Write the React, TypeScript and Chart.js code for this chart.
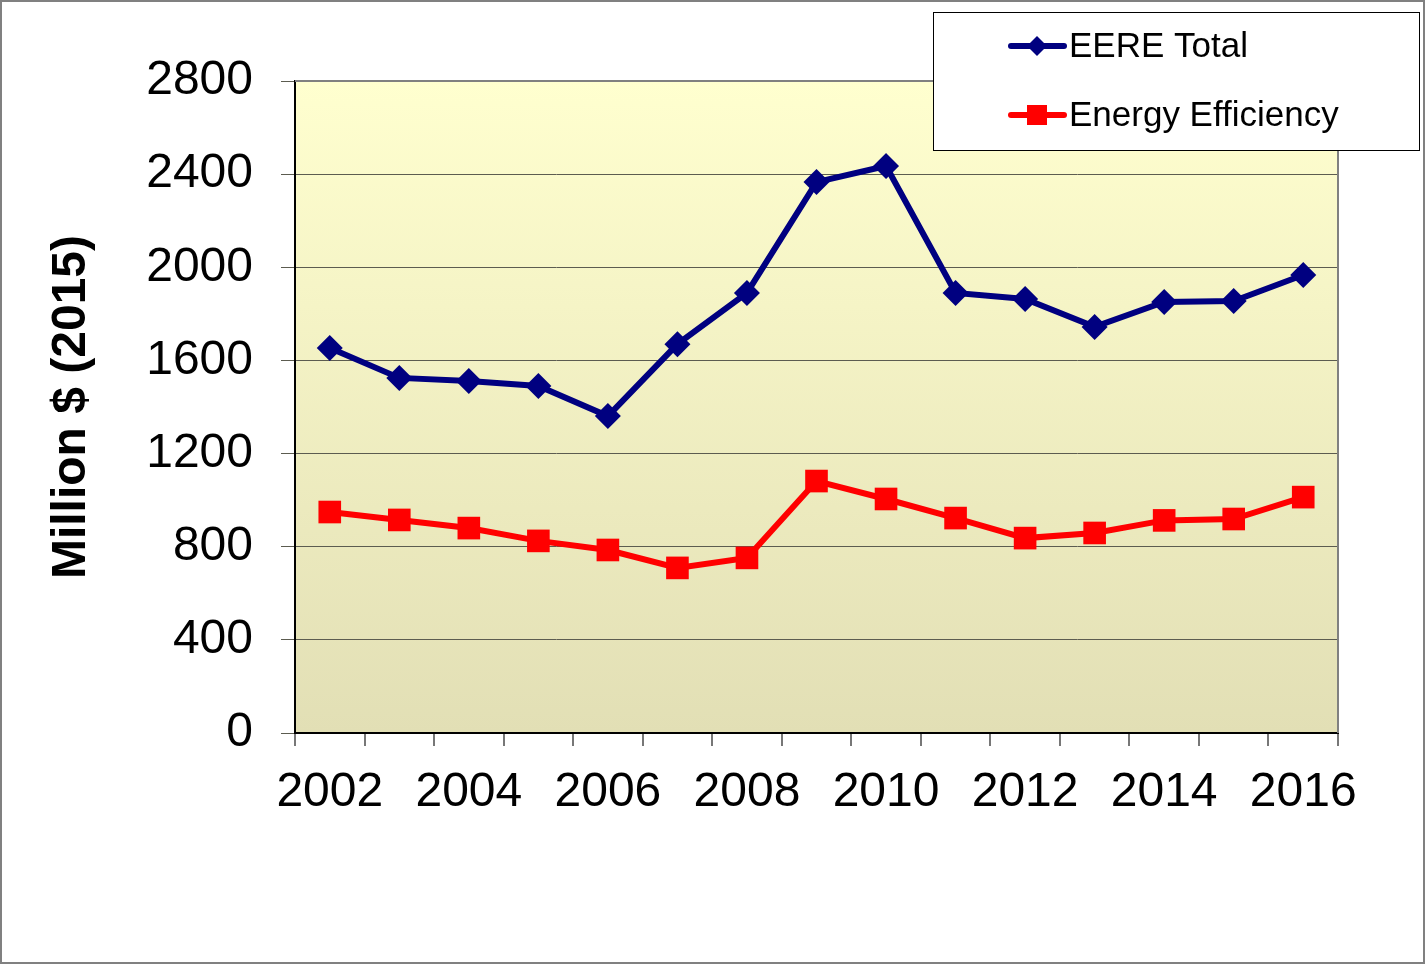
import React, { useEffect, useRef } from "react";
import { Chart, registerables } from "chart.js";

Chart.register(...registerables);

const years = ["2002","2003","2004","2005","2006","2007","2008","2009","2010","2011","2012","2013","2014","2015","2016"];
const eereTotal = [1653,1525,1512,1490,1361,1670,1890,2366,2435,1890,1864,1744,1851,1855,1967];
const energyEfficiency = [949,915,880,825,786,709,752,1082,1005,923,837,859,913,919,1013];
const yTicks = [0,400,800,1200,1600,2000,2400,2800];

const FONT = "'Liberation Sans', Arial, sans-serif";

const framePlugin = {
  id: "frame",
  beforeDraw(chart: any) {
    const { ctx, width, height, chartArea } = chart;
    ctx.save();
    ctx.fillStyle = "#ffffff";
    ctx.fillRect(0, 0, width, height);
    const g = ctx.createLinearGradient(0, chartArea.top, 0, chartArea.bottom);
    g.addColorStop(0, "#FFFFCF");
    g.addColorStop(1, "#E2DFB5");
    ctx.fillStyle = g;
    ctx.fillRect(chartArea.left, chartArea.top, chartArea.right - chartArea.left, chartArea.bottom - chartArea.top);
    ctx.restore();
  },
  afterDraw(chart: any) {
    const { ctx, width, height, chartArea } = chart;
    ctx.save();
    ctx.strokeStyle = "#808080";
    ctx.lineWidth = 2;
    ctx.beginPath();
    ctx.moveTo(chartArea.left, chartArea.top);
    ctx.lineTo(chartArea.right, chartArea.top);
    ctx.lineTo(chartArea.right, chartArea.bottom);
    ctx.stroke();
    ctx.strokeStyle = "#808080";
    ctx.lineWidth = 2;
    ctx.strokeRect(1, 1, width - 2, height - 2);

    const lx = 933, ly = 12, lw = 486, lh = 138;
    ctx.fillStyle = "#ffffff";
    ctx.fillRect(lx, ly, lw, lh);
    ctx.strokeStyle = "#000000";
    ctx.lineWidth = 1;
    ctx.strokeRect(lx + 0.5, ly + 0.5, lw, lh);
    const rows = [46, 115];
    chart.data.datasets.forEach((ds: any, i: number) => {
      const y = rows[i];
      ctx.strokeStyle = ds.borderColor;
      ctx.lineWidth = 6;
      ctx.lineCap = "round";
      ctx.beginPath();
      ctx.moveTo(1011, y);
      ctx.lineTo(1064, y);
      ctx.stroke();
      ctx.fillStyle = ds.borderColor;
      const cx = 1037;
      if (ds.pointStyle === "rectRot") {
        ctx.beginPath();
        ctx.moveTo(cx, y - 10);
        ctx.lineTo(cx + 10, y);
        ctx.lineTo(cx, y + 10);
        ctx.lineTo(cx - 10, y);
        ctx.closePath();
        ctx.fill();
      } else {
        ctx.fillRect(cx - 10, y - 10, 20, 20);
      }
      ctx.fillStyle = "#000000";
      ctx.font = `35px ${FONT}`;
      ctx.textBaseline = "middle";
      ctx.textAlign = "left";
      ctx.fillText(ds.label, 1069, y + 1);
    });
    ctx.restore();
  },
};

export default function App() {
  const ref = useRef<HTMLCanvasElement | null>(null);
  useEffect(() => {
    document.body.style.margin = "0";
    const canvas = ref.current!;
    const chart = new Chart(canvas, {
      type: "line",
      data: {
        labels: years,
        datasets: [
          {
            label: "EERE Total",
            data: eereTotal,
            borderColor: "#000080",
            backgroundColor: "#000080",
            borderWidth: 6,
            pointStyle: "rectRot",
            pointRadius: 13,
            pointHoverRadius: 13,
            pointBorderWidth: 0,
            tension: 0,
          },
          {
            label: "Energy Efficiency",
            data: energyEfficiency,
            borderColor: "#FF0000",
            backgroundColor: "#FF0000",
            borderWidth: 6,
            pointStyle: "rect",
            pointRadius: 16,
            pointHoverRadius: 16,
            pointBorderWidth: 0,
            tension: 0,
          },
        ],
      },
      options: {
        responsive: false,
        animation: false,
        events: [],
        layout: { padding: { top: 81, right: 87, bottom: 0, left: 0 } },
        plugins: {
          legend: { display: false },
          tooltip: { enabled: false },
          title: { display: false },
        },
        scales: {
          x: {
            type: "category",
            offset: true,
            grid: {
              offset: true,
              drawOnChartArea: false,
              drawTicks: true,
              tickLength: 13,
              color: "#777777",
              lineWidth: 2,
            },
            border: { color: "#000000", width: 2 },
            ticks: {
              autoSkip: false,
              maxRotation: 0,
              padding: 18,
              color: "#000000",
              font: { family: FONT, size: 48 },
              callback: (_v: any, i: number) => (i % 2 === 0 ? years[i] : ""),
            },
            afterFit: (s: any) => { s.height = 231; },
          },
          y: {
            min: 0,
            max: 2800,
            afterBuildTicks: (s: any) => { s.ticks = yTicks.map((v) => ({ value: v })); },
            grid: {
              color: "#5c5c50",
              lineWidth: 1,
              drawTicks: true,
              tickLength: 14,
            },
            border: { color: "#000000", width: 2 },
            ticks: {
              padding: 28,
              color: "#000000",
              font: { family: FONT, size: 48 },
              callback: (v: any) => String(v),
            },
            title: {
              display: true,
              text: "Million $ (2015)",
              color: "#000000",
              font: { family: FONT, size: 48, weight: "bold" },
              padding: { top: 43, bottom: 0 },
            },
            afterFit: (s: any) => { s.width = 295; },
          },
        },
      },
      plugins: [framePlugin],
    });
    return () => chart.destroy();
  }, []);
  return <canvas ref={ref} width={1425} height={964} style={{ display: "block" }} />;
}
